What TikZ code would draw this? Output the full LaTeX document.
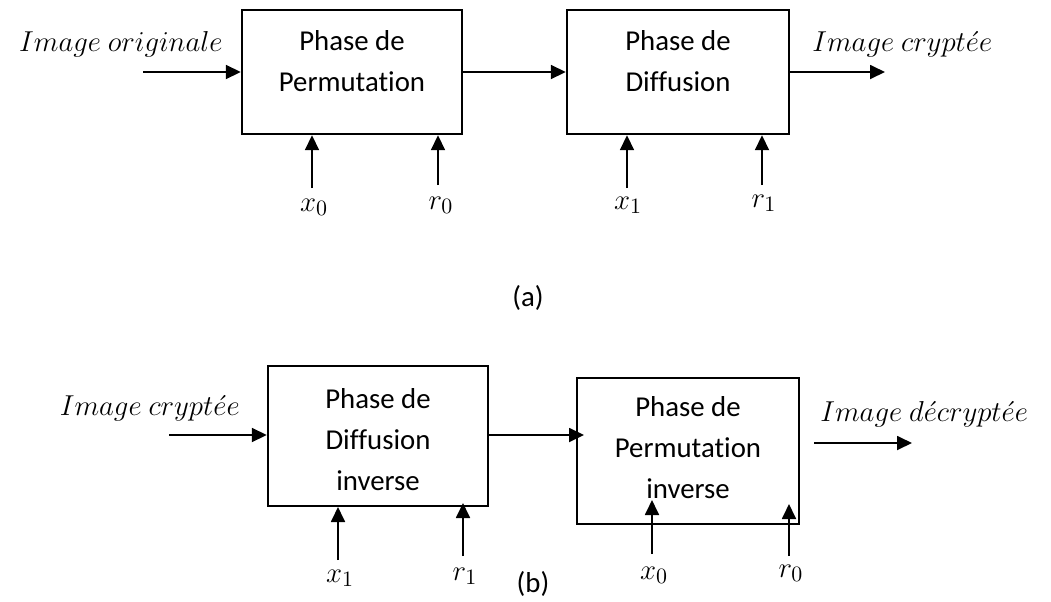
\documentclass[tikz,border=0pt]{standalone}
\usepackage{fontspec}
\setmainfont{Carlito}[Ligatures=NoCommon]
\usetikzlibrary{arrows.meta,calc}
\begin{document}
\begin{tikzpicture}[x=0.5pt,y=-0.5pt,
  blockbox/.style={draw,line width=1.2pt,minimum width=110pt,inner sep=0pt},
  blocktext/.style={align=center,font=\fontsize{14.4}{20.5}\selectfont,inner sep=0pt},
  flow/.style={line width=0.9pt,-{Triangle[length=7.5pt,width=7pt]}},
  lbl/.style={font=\fontsize{15.6}{18}\selectfont,inner sep=0pt},
  captxt/.style={font=\fontsize{14.4}{18}\selectfont,inner sep=0pt}]
\useasboundingbox (0,0) rectangle (1051,601);
% (a)
\node[blockbox,minimum height=62pt] (b1) at (352,72) {};
\node[blocktext] (b1t) at (352,61) {Phase de\\Permutation};
\node[blockbox,minimum width=111pt,minimum height=62pt] (b2) at (678,72) {};
\node[blocktext] (b2t) at (678,61) {Phase de\\Diffusion};
\coordinate (i1) at (143,72);
\coordinate (o1) at (885,72);
\draw[flow] (i1) -- (i1 -| b1.west);
\draw[flow] (b1.east) -- (b2.west);
\draw[flow] (b2.east) -- (o1);
\node[lbl,anchor=base east] (t1) at (223,51) {$Image\ originale$};
\node[lbl,anchor=base west] (t2) at (812,51) {$Image\ crypt\acute{e}e$};
\coordinate (ax0) at (312,188);
\coordinate (ar0) at (438,185);
\coordinate (ax1) at (627,188);
\coordinate (ar1) at (762,185);
\draw[flow] (ax0) -- (ax0 |- b1.south);
\draw[flow] (ar0) -- (ar0 |- b1.south);
\draw[flow] (ax1) -- (ax1 |- b2.south);
\draw[flow] (ar1) -- (ar1 |- b2.south);
\node[lbl] (lx0) at (314,207) {$x_0$};
\node[lbl] (lr0) at (441,205) {$r_0$};
\node[lbl] (lx1) at (628,205) {$x_1$};
\node[lbl] (lr1) at (764,203) {$r_1$};
\node[captxt] (ca) at (528,298) {(a)};
% (b)
\node[blockbox,minimum height=70pt] (b3) at (378,436) {};
\node[blocktext] (b3t) at (378,440) {Phase de\\Diffusion\\inverse};
\node[blockbox,minimum width=111pt,minimum height=73pt] (b4) at (688,451) {};
\node[blocktext] (b4t) at (688,448) {Phase de\\Permutation\\inverse};
\coordinate (i2) at (169,435);
\coordinate (m2) at (584,435);
\coordinate (o2s) at (814,443);
\coordinate (o2e) at (912,443);
\draw[flow] (i2) -- (i2 -| b3.west);
\draw[flow] (b3.east |- i2) -- (m2);
\draw[flow] (o2s) -- (o2e);
\node[lbl,anchor=base east] (t3) at (240,415) {$Image\ crypt\acute{e}e$};
\node[lbl,anchor=base west] (t4) at (820,421) {$Image\ d\acute{e}crypt\acute{e}e$};
\coordinate (bx1) at (338,560);
\coordinate (br1) at (463,556);
\coordinate (bx0) at (652,554);
\coordinate (br0) at (789,556);
\coordinate (bx1t) at (338,507);
\coordinate (br1t) at (463,503);
\coordinate (bx0t) at (652,500);
\coordinate (br0t) at (789,504);
\draw[flow] (bx1) -- (bx1t);
\draw[flow] (br1) -- (br1t);
\draw[flow] (bx0) -- (bx0t);
\draw[flow] (br0) -- (br0t);
\node[lbl] (mx1) at (340,578) {$x_1$};
\node[lbl] (mr1) at (465,576) {$r_1$};
\node[lbl] (mx0) at (654,575) {$x_0$};
\node[lbl] (mr0) at (791,573) {$r_0$};
\node[captxt] (cb) at (533,584) {(b)};
\end{tikzpicture}
\end{document}
